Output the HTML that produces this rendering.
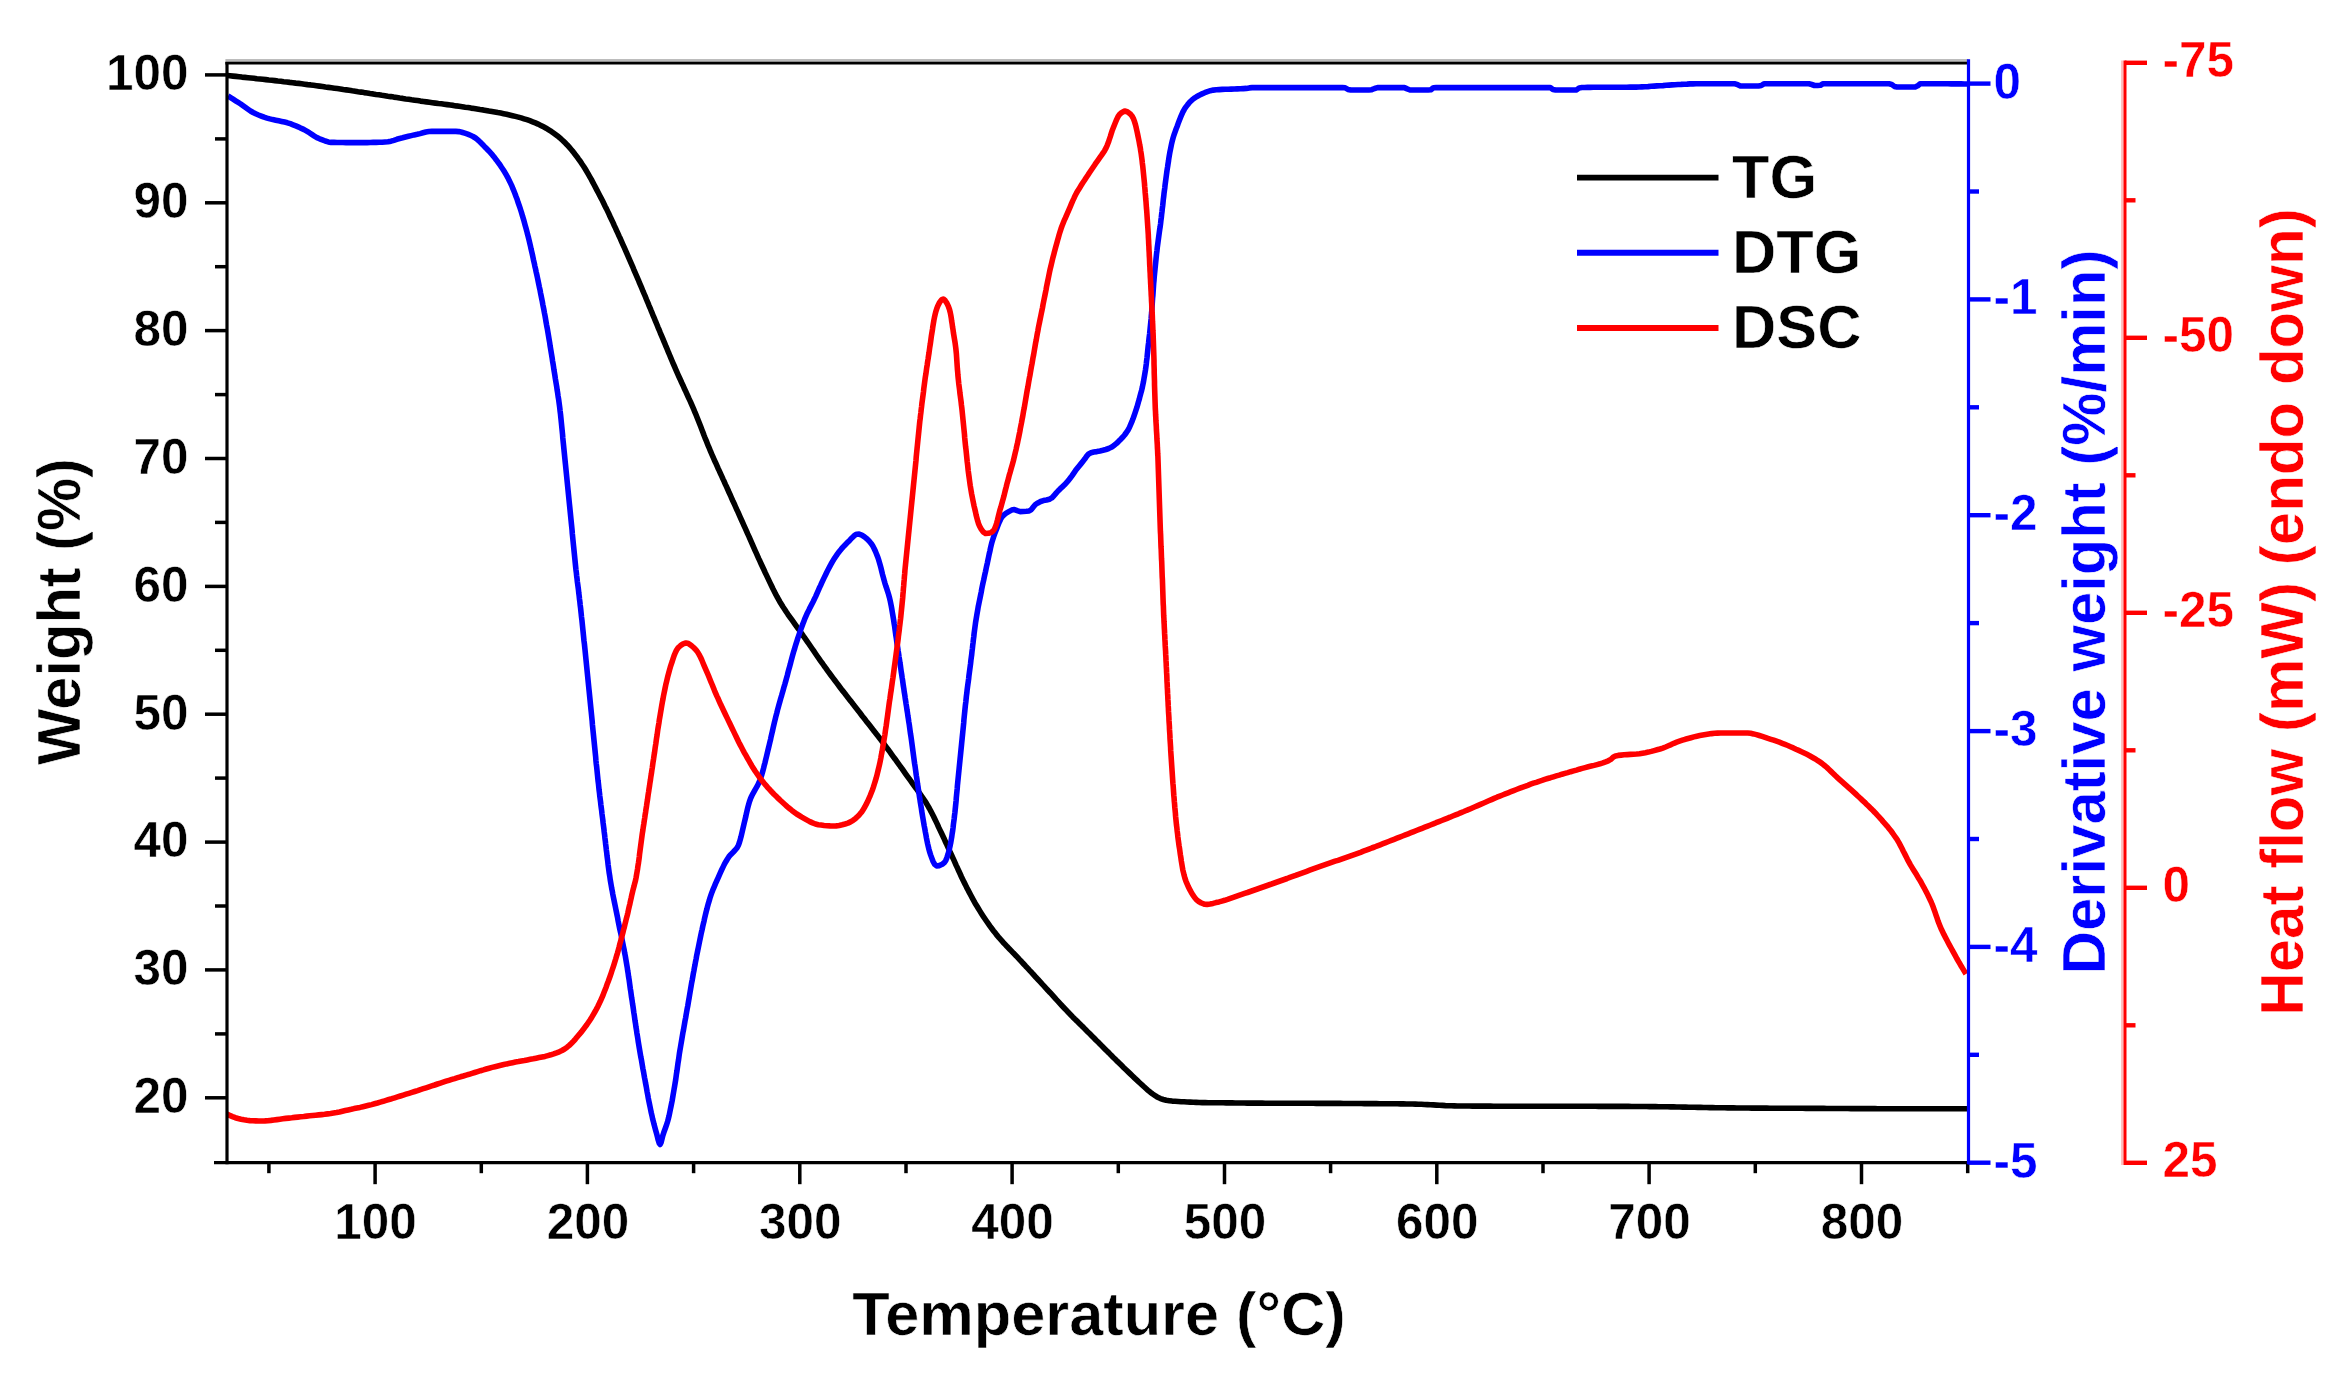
<!DOCTYPE html>
<html lang="en"><head><meta charset="utf-8"><title>TG / DTG / DSC</title>
<style>html,body{margin:0;padding:0;background:#fff}body{width:2350px;height:1390px;overflow:hidden}svg{display:block}text{font-family:'Liberation Sans',Arial,sans-serif;font-weight:bold;stroke:#fff;paint-order:fill stroke;stroke-linejoin:round}</style></head><body>
<svg width="2350" height="1390" viewBox="0 0 2350 1390">
<rect width="2350" height="1390" fill="#fff"/>
<defs><clipPath id="c"><rect x="227.0" y="62.3" width="1741.5" height="1100.4"/></clipPath></defs>
<g clip-path="url(#c)" fill="none" stroke-width="5.6" stroke-linejoin="round" stroke-linecap="butt">
<path d="M227.0 75.5L230.0 75.8L233.0 76.1L236.0 76.4L239.0 76.7L241.9 77.1L244.9 77.4L247.9 77.7L250.9 78.0L253.9 78.3L256.9 78.7L259.9 79.0L262.8 79.3L265.8 79.6L268.8 80.0L271.8 80.3L274.8 80.6L277.8 81.0L280.8 81.3L283.7 81.7L286.7 82.0L289.7 82.4L292.7 82.7L295.7 83.1L298.6 83.4L301.6 83.8L304.6 84.2L307.6 84.6L310.6 84.9L313.5 85.3L316.5 85.7L319.5 86.1L322.5 86.5L325.4 87.0L328.4 87.4L331.4 87.8L334.4 88.2L337.3 88.6L340.3 89.0L343.3 89.5L346.3 89.9L349.2 90.3L352.2 90.8L355.2 91.2L358.1 91.7L361.1 92.1L364.1 92.6L367.1 93.0L370.0 93.5L373.0 93.9L376.0 94.4L378.9 94.8L381.9 95.3L384.9 95.7L387.8 96.2L390.8 96.6L393.8 97.1L396.8 97.5L399.7 98.0L402.7 98.4L405.7 98.9L408.6 99.3L411.6 99.8L414.6 100.2L417.5 100.6L420.5 101.1L423.5 101.5L426.5 101.9L429.4 102.3L432.4 102.7L435.4 103.1L438.4 103.5L441.4 103.8L444.3 104.2L447.3 104.6L450.3 105.0L453.3 105.4L456.2 105.9L459.2 106.3L462.2 106.7L465.2 107.2L468.1 107.6L471.1 108.1L474.1 108.5L477.0 109.0L480.0 109.5L483.0 109.9L485.9 110.4L488.9 111.0L491.9 111.5L494.8 112.0L497.8 112.6L500.7 113.1L503.6 113.7L506.6 114.3L509.5 115.0L512.5 115.7L515.4 116.4L518.3 117.1L521.2 117.9L524.0 118.8L526.9 119.7L529.8 120.7L532.6 121.8L535.4 122.9L538.1 124.1L540.8 125.4L543.5 126.8L546.1 128.2L548.7 129.8L551.3 131.4L553.8 133.2L556.2 135.0L558.6 136.8L560.8 138.7L563.0 140.7L565.1 142.8L567.2 144.9L569.2 147.2L571.2 149.5L573.2 151.9L575.0 154.3L576.9 156.7L578.6 159.1L580.4 161.5L582.0 164.0L583.7 166.5L585.3 169.0L586.8 171.6L588.3 174.2L589.8 176.8L591.3 179.4L592.7 182.1L594.1 184.8L595.5 187.4L596.9 190.1L598.3 192.8L599.7 195.5L601.1 198.1L602.5 200.8L603.8 203.5L605.1 206.2L606.5 208.9L607.8 211.6L609.1 214.3L610.3 217.0L611.6 219.7L612.9 222.4L614.1 225.2L615.4 227.9L616.6 230.6L617.9 233.4L619.1 236.1L620.4 238.8L621.6 241.6L622.8 244.3L624.1 247.1L625.3 249.8L626.5 252.6L627.7 255.3L628.9 258.1L630.1 260.8L631.3 263.6L632.5 266.3L633.6 269.1L634.8 271.9L636.0 274.6L637.2 277.4L638.4 280.1L639.5 282.9L640.7 285.7L641.9 288.4L643.0 291.2L644.2 294.0L645.4 296.7L646.5 299.5L647.7 302.3L648.8 305.1L650.0 307.8L651.1 310.6L652.3 313.4L653.4 316.2L654.6 318.9L655.7 321.7L656.9 324.5L658.0 327.3L659.2 330.0L660.3 332.8L661.5 335.6L662.7 338.4L663.8 341.1L665.0 343.9L666.1 346.7L667.3 349.4L668.4 352.2L669.6 355.0L670.8 357.8L671.9 360.5L673.1 363.3L674.3 366.0L675.5 368.8L676.7 371.6L677.9 374.3L679.1 377.0L680.4 379.8L681.6 382.5L682.9 385.2L684.1 388.0L685.4 390.7L686.6 393.4L687.9 396.2L689.1 398.9L690.4 401.6L691.6 404.4L692.8 407.1L694.0 409.9L695.1 412.7L696.3 415.4L697.4 418.2L698.5 421.0L699.6 423.8L700.7 426.6L701.8 429.4L702.9 432.2L703.9 435.0L705.0 437.8L706.2 440.6L707.3 443.4L708.4 446.2L709.6 448.9L710.7 451.7L711.9 454.5L713.1 457.2L714.3 460.0L715.6 462.7L716.8 465.4L718.0 468.2L719.3 470.9L720.5 473.6L721.8 476.4L723.0 479.1L724.3 481.8L725.5 484.6L726.8 487.3L728.0 490.0L729.2 492.8L730.5 495.5L731.7 498.3L732.9 501.0L734.2 503.7L735.4 506.5L736.6 509.2L737.9 511.9L739.1 514.7L740.3 517.4L741.6 520.2L742.8 522.9L744.0 525.6L745.3 528.4L746.5 531.1L747.7 533.9L749.0 536.6L750.2 539.4L751.4 542.1L752.6 544.9L753.8 547.6L755.0 550.3L756.3 553.1L757.5 555.8L758.7 558.6L760.0 561.3L761.2 564.0L762.5 566.8L763.8 569.5L765.0 572.2L766.3 574.9L767.6 577.6L768.9 580.4L770.2 583.1L771.5 585.8L772.8 588.5L774.2 591.2L775.5 593.9L776.9 596.5L778.4 599.1L779.8 601.7L781.4 604.3L782.9 606.8L784.6 609.3L786.2 611.8L787.9 614.3L789.7 616.8L791.4 619.2L793.2 621.7L794.9 624.1L796.7 626.6L798.5 629.0L800.2 631.5L801.9 633.9L803.6 636.4L805.4 638.9L807.1 641.3L808.8 643.8L810.5 646.3L812.2 648.8L813.9 651.2L815.6 653.7L817.3 656.2L819.0 658.6L820.7 661.1L822.5 663.5L824.2 666.0L826.0 668.4L827.7 670.9L829.5 673.3L831.3 675.7L833.1 678.1L834.9 680.5L836.7 682.9L838.5 685.3L840.3 687.7L842.1 690.1L844.0 692.4L845.8 694.8L847.7 697.2L849.5 699.6L851.4 701.9L853.2 704.3L855.1 706.7L856.9 709.0L858.8 711.4L860.6 713.8L862.4 716.2L864.3 718.5L866.1 720.9L868.0 723.3L869.8 725.6L871.7 728.0L873.5 730.4L875.4 732.7L877.2 735.1L879.1 737.5L880.9 739.9L882.7 742.3L884.5 744.7L886.3 747.1L888.1 749.5L889.9 751.9L891.6 754.3L893.4 756.8L895.2 759.2L896.9 761.6L898.7 764.1L900.4 766.5L902.2 768.9L903.9 771.4L905.6 773.8L907.4 776.3L909.1 778.7L910.9 781.2L912.6 783.6L914.4 786.1L916.2 788.5L917.9 790.9L919.7 793.4L921.4 795.8L923.1 798.3L924.8 800.8L926.4 803.3L927.9 805.9L929.4 808.5L930.8 811.1L932.2 813.8L933.6 816.5L934.9 819.2L936.2 821.9L937.5 824.6L938.7 827.4L940.0 830.1L941.3 832.8L942.6 835.5L943.9 838.2L945.1 841.0L946.4 843.7L947.6 846.4L948.9 849.2L950.1 851.9L951.4 854.6L952.6 857.3L953.9 860.1L955.1 862.8L956.3 865.6L957.6 868.3L958.8 871.0L960.1 873.8L961.3 876.5L962.6 879.2L963.9 881.9L965.3 884.6L966.6 887.3L968.0 889.9L969.4 892.6L970.8 895.3L972.2 897.9L973.7 900.6L975.1 903.2L976.7 905.8L978.2 908.3L979.8 910.9L981.4 913.4L983.0 915.9L984.7 918.5L986.4 921.0L988.1 923.4L989.8 925.9L991.6 928.3L993.4 930.7L995.3 933.1L997.1 935.4L999.0 937.7L1001.0 939.9L1003.0 942.2L1005.1 944.4L1007.1 946.6L1009.2 948.7L1011.3 950.9L1013.4 953.1L1015.5 955.2L1017.6 957.4L1019.6 959.6L1021.7 961.8L1023.7 964.0L1025.7 966.2L1027.8 968.4L1029.8 970.6L1031.9 972.8L1033.9 975.0L1035.9 977.3L1038.0 979.5L1040.0 981.7L1042.0 983.9L1044.1 986.1L1046.1 988.3L1048.1 990.5L1050.2 992.7L1052.2 994.9L1054.2 997.2L1056.2 999.4L1058.3 1001.6L1060.3 1003.8L1062.3 1006.0L1064.4 1008.2L1066.5 1010.4L1068.5 1012.6L1070.6 1014.7L1072.7 1016.9L1074.8 1019.0L1077.0 1021.1L1079.1 1023.2L1081.2 1025.3L1083.4 1027.4L1085.5 1029.6L1087.6 1031.7L1089.8 1033.8L1091.9 1035.9L1094.0 1038.0L1096.1 1040.2L1098.3 1042.3L1100.4 1044.4L1102.5 1046.6L1104.6 1048.7L1106.7 1050.8L1108.9 1052.9L1111.0 1055.1L1113.1 1057.2L1115.3 1059.3L1117.4 1061.4L1119.6 1063.5L1121.7 1065.6L1123.8 1067.7L1126.0 1069.8L1128.2 1071.9L1130.3 1073.9L1132.5 1076.0L1134.7 1078.1L1136.9 1080.1L1139.1 1082.2L1141.3 1084.2L1143.5 1086.3L1145.7 1088.3L1148.0 1090.3L1150.3 1092.2L1152.7 1094.0L1155.2 1095.7L1157.7 1097.3L1160.4 1098.6L1163.3 1099.5L1166.2 1100.3L1169.2 1100.7L1172.1 1101.1L1175.1 1101.3L1178.2 1101.5L1181.2 1101.7L1184.1 1101.8L1187.1 1102.0L1190.1 1102.1L1193.2 1102.3L1196.2 1102.4L1199.2 1102.5L1202.2 1102.6L1205.2 1102.6L1208.2 1102.7L1211.2 1102.7L1214.2 1102.7L1217.2 1102.8L1220.2 1102.8L1223.2 1102.8L1226.2 1102.9L1229.2 1102.9L1232.2 1102.9L1235.2 1103.0L1238.2 1103.0L1241.2 1103.0L1244.2 1103.0L1247.2 1103.1L1250.2 1103.1L1253.2 1103.1L1256.2 1103.1L1259.2 1103.1L1262.2 1103.1L1265.2 1103.2L1268.2 1103.2L1271.2 1103.2L1274.2 1103.2L1277.2 1103.2L1280.2 1103.2L1283.2 1103.2L1286.2 1103.3L1289.3 1103.3L1292.3 1103.3L1295.3 1103.3L1298.3 1103.3L1301.3 1103.3L1304.3 1103.3L1307.3 1103.3L1310.3 1103.3L1313.3 1103.3L1316.3 1103.4L1319.3 1103.4L1322.3 1103.4L1325.3 1103.4L1328.3 1103.4L1331.3 1103.4L1334.3 1103.4L1337.3 1103.4L1340.3 1103.4L1343.3 1103.5L1346.3 1103.5L1349.3 1103.5L1352.3 1103.5L1355.3 1103.5L1358.3 1103.5L1361.3 1103.5L1364.4 1103.6L1367.4 1103.6L1370.4 1103.6L1373.4 1103.6L1376.4 1103.6L1379.4 1103.7L1382.4 1103.7L1385.4 1103.7L1388.4 1103.8L1391.4 1103.8L1394.4 1103.8L1397.4 1103.8L1400.4 1103.9L1403.4 1103.9L1406.4 1104.0L1409.4 1104.0L1412.4 1104.0L1415.4 1104.1L1418.4 1104.2L1421.4 1104.3L1424.4 1104.5L1427.4 1104.6L1430.4 1104.8L1433.4 1104.9L1436.4 1105.1L1439.4 1105.3L1442.4 1105.4L1445.4 1105.6L1448.4 1105.7L1451.4 1105.8L1454.4 1105.9L1457.4 1106.0L1460.4 1106.0L1463.4 1106.0L1466.4 1106.0L1469.4 1106.0L1472.4 1106.1L1475.4 1106.1L1478.4 1106.1L1481.4 1106.1L1484.4 1106.1L1487.4 1106.1L1490.4 1106.1L1493.4 1106.2L1496.4 1106.2L1499.5 1106.2L1502.5 1106.2L1505.5 1106.2L1508.5 1106.2L1511.5 1106.2L1514.5 1106.2L1517.5 1106.2L1520.5 1106.2L1523.5 1106.2L1526.5 1106.2L1529.5 1106.2L1532.5 1106.2L1535.5 1106.3L1538.5 1106.3L1541.5 1106.3L1544.5 1106.3L1547.5 1106.3L1550.5 1106.3L1553.5 1106.3L1556.5 1106.3L1559.5 1106.3L1562.5 1106.3L1565.5 1106.3L1568.5 1106.3L1571.5 1106.3L1574.5 1106.3L1577.5 1106.3L1580.6 1106.3L1583.6 1106.3L1586.6 1106.3L1589.6 1106.3L1592.6 1106.3L1595.6 1106.3L1598.6 1106.4L1601.6 1106.4L1604.6 1106.4L1607.6 1106.4L1610.6 1106.4L1613.6 1106.4L1616.6 1106.4L1619.6 1106.4L1622.6 1106.4L1625.6 1106.4L1628.6 1106.4L1631.6 1106.5L1634.6 1106.5L1637.6 1106.5L1640.6 1106.5L1643.6 1106.5L1646.6 1106.5L1649.6 1106.6L1652.6 1106.6L1655.6 1106.6L1658.6 1106.7L1661.7 1106.7L1664.7 1106.8L1667.7 1106.8L1670.7 1106.9L1673.7 1106.9L1676.7 1107.0L1679.7 1107.0L1682.7 1107.1L1685.7 1107.1L1688.7 1107.2L1691.7 1107.2L1694.7 1107.3L1697.7 1107.4L1700.7 1107.4L1703.7 1107.5L1706.7 1107.5L1709.7 1107.6L1712.7 1107.6L1715.7 1107.7L1718.7 1107.7L1721.7 1107.8L1724.7 1107.8L1727.7 1107.9L1730.7 1107.9L1733.7 1107.9L1736.7 1108.0L1739.7 1108.0L1742.7 1108.0L1745.7 1108.0L1748.7 1108.0L1751.7 1108.1L1754.8 1108.1L1757.8 1108.1L1760.8 1108.1L1763.8 1108.1L1766.8 1108.1L1769.8 1108.2L1772.8 1108.2L1775.8 1108.2L1778.8 1108.2L1781.8 1108.2L1784.8 1108.2L1787.8 1108.3L1790.8 1108.3L1793.8 1108.3L1796.8 1108.3L1799.8 1108.3L1802.8 1108.3L1805.8 1108.4L1808.8 1108.4L1811.8 1108.4L1814.8 1108.4L1817.8 1108.4L1820.8 1108.4L1823.8 1108.4L1826.8 1108.5L1829.8 1108.5L1832.8 1108.5L1835.8 1108.5L1838.8 1108.5L1841.8 1108.5L1844.9 1108.5L1847.9 1108.5L1850.9 1108.6L1853.9 1108.6L1856.9 1108.6L1859.9 1108.6L1862.9 1108.6L1865.9 1108.6L1868.9 1108.6L1871.9 1108.6L1874.9 1108.6L1877.9 1108.7L1880.9 1108.7L1883.9 1108.7L1886.9 1108.7L1889.9 1108.7L1892.9 1108.7L1895.9 1108.7L1898.9 1108.7L1901.9 1108.7L1904.9 1108.7L1907.9 1108.7L1910.9 1108.7L1913.9 1108.7L1916.9 1108.8L1919.9 1108.8L1922.9 1108.8L1925.9 1108.8L1929.0 1108.8L1932.0 1108.8L1935.0 1108.8L1938.0 1108.8L1941.0 1108.8L1944.0 1108.8L1947.0 1108.8L1950.0 1108.8L1953.0 1108.8L1956.0 1108.8L1959.0 1108.8L1962.0 1108.8L1965.0 1108.8L1968.0 1108.8" stroke="#000"/>
<path d="M228.0 96.0L230.6 97.6L233.1 99.2L235.6 100.8L238.2 102.4L240.7 104.0L243.1 105.8L245.6 107.6L248.0 109.3L250.5 111.0L253.1 112.5L255.7 113.8L258.5 115.0L261.3 116.1L264.1 117.2L267.0 118.1L269.9 118.9L272.8 119.6L275.7 120.2L278.7 120.8L281.6 121.4L284.6 122.1L287.4 122.8L290.3 123.7L293.1 124.8L295.9 125.9L298.7 127.1L301.4 128.4L304.1 129.6L306.7 131.1L309.3 132.7L311.8 134.4L314.4 136.1L316.9 137.6L319.6 138.8L322.4 139.9L325.2 141.0L328.2 141.9L331.1 142.4L334.1 142.4L337.0 142.5L340.0 142.5L343.0 142.5L346.0 142.6L349.0 142.6L352.1 142.6L355.1 142.6L358.1 142.6L361.1 142.6L364.1 142.6L367.1 142.6L370.1 142.5L373.2 142.4L376.2 142.4L379.2 142.3L382.1 142.2L385.1 142.0L388.0 141.8L391.0 141.2L393.9 140.3L396.8 139.3L399.7 138.5L402.6 137.8L405.5 137.0L408.4 136.3L411.3 135.6L414.2 134.9L417.2 134.3L420.1 133.6L423.0 132.8L425.9 132.0L428.9 131.5L431.8 131.4L434.8 131.4L437.8 131.4L440.8 131.4L443.9 131.4L446.9 131.4L449.9 131.4L452.9 131.4L455.8 131.4L458.8 131.6L461.8 132.2L464.8 133.1L467.7 134.1L470.4 135.3L473.0 136.5L475.5 138.0L477.8 139.9L480.1 142.0L482.3 144.2L484.4 146.4L486.5 148.5L488.6 150.7L490.6 152.9L492.6 155.2L494.5 157.6L496.3 159.9L498.1 162.4L499.9 164.8L501.5 167.3L503.2 169.8L504.8 172.3L506.3 174.9L507.8 177.6L509.1 180.2L510.4 182.9L511.7 185.6L512.8 188.4L514.0 191.2L515.1 194.0L516.1 196.8L517.2 199.6L518.1 202.5L519.1 205.3L520.1 208.2L521.0 211.0L521.9 213.9L522.7 216.7L523.6 219.6L524.4 222.5L525.2 225.4L526.0 228.3L526.8 231.2L527.5 234.1L528.3 237.0L529.0 239.9L529.7 242.9L530.4 245.8L531.0 248.7L531.7 251.6L532.4 254.6L533.0 257.5L533.6 260.4L534.3 263.3L534.9 266.3L535.6 269.2L536.2 272.1L536.9 275.1L537.5 278.0L538.1 280.9L538.7 283.9L539.3 286.8L540.0 289.8L540.5 292.7L541.1 295.6L541.7 298.6L542.3 301.5L542.8 304.5L543.4 307.4L544.0 310.4L544.5 313.3L545.1 316.3L545.6 319.2L546.1 322.2L546.6 325.1L547.2 328.1L547.7 331.0L548.2 334.0L548.7 337.0L549.2 339.9L549.7 342.9L550.1 345.8L550.6 348.8L551.1 351.8L551.6 354.7L552.1 357.7L552.5 360.7L553.0 363.6L553.5 366.6L553.9 369.6L554.4 372.5L554.9 375.5L555.3 378.4L555.8 381.4L556.3 384.4L556.8 387.3L557.2 390.3L557.7 393.3L558.1 396.2L558.6 399.2L559.0 402.2L559.4 405.1L559.8 408.1L560.1 411.1L560.5 414.1L560.8 417.1L561.1 420.0L561.4 423.0L561.7 426.0L562.0 429.0L562.3 432.0L562.6 435.0L562.8 438.0L563.1 441.0L563.4 443.9L563.7 446.9L564.0 449.9L564.3 452.9L564.6 455.9L564.9 458.9L565.2 461.9L565.5 464.8L565.8 467.8L566.1 470.8L566.4 473.8L566.7 476.8L567.0 479.8L567.3 482.8L567.6 485.7L567.9 488.7L568.2 491.7L568.5 494.7L568.8 497.7L569.1 500.7L569.4 503.7L569.7 506.6L570.0 509.6L570.3 512.6L570.6 515.6L570.9 518.6L571.2 521.6L571.5 524.6L571.8 527.5L572.1 530.5L572.3 533.5L572.6 536.5L572.9 539.5L573.2 542.5L573.5 545.5L573.8 548.4L574.1 551.4L574.4 554.4L574.7 557.4L575.0 560.4L575.3 563.4L575.6 566.4L575.9 569.3L576.3 572.3L576.6 575.3L577.0 578.3L577.3 581.3L577.7 584.2L578.1 587.2L578.5 590.2L578.8 593.2L579.2 596.1L579.5 599.1L579.9 602.1L580.2 605.1L580.6 608.1L580.9 611.1L581.2 614.0L581.5 617.0L581.9 620.0L582.2 623.0L582.5 626.0L582.8 629.0L583.1 631.9L583.4 634.9L583.7 637.9L584.0 640.9L584.4 643.9L584.7 646.9L585.0 649.8L585.3 652.8L585.6 655.8L585.9 658.8L586.2 661.8L586.5 664.8L586.8 667.8L587.1 670.7L587.4 673.7L587.7 676.7L588.0 679.7L588.3 682.7L588.6 685.7L588.9 688.7L589.2 691.6L589.5 694.6L589.8 697.6L590.1 700.6L590.4 703.6L590.7 706.6L591.0 709.6L591.3 712.5L591.6 715.5L591.9 718.5L592.2 721.5L592.4 724.5L592.7 727.5L593.0 730.5L593.3 733.4L593.6 736.4L593.9 739.4L594.2 742.4L594.5 745.4L594.8 748.4L595.1 751.4L595.4 754.4L595.7 757.3L595.9 760.3L596.2 763.3L596.6 766.3L596.9 769.3L597.2 772.3L597.5 775.3L597.8 778.2L598.1 781.2L598.5 784.2L598.8 787.2L599.1 790.2L599.5 793.1L599.8 796.1L600.2 799.1L600.6 802.1L600.9 805.1L601.3 808.0L601.7 811.0L602.0 814.0L602.4 817.0L602.8 819.9L603.1 822.9L603.5 825.9L603.9 828.9L604.2 831.9L604.6 834.8L604.9 837.8L605.3 840.8L605.6 843.8L606.0 846.8L606.3 849.8L606.7 852.7L607.0 855.7L607.4 858.7L607.8 861.7L608.1 864.6L608.5 867.6L608.9 870.6L609.3 873.6L609.8 876.5L610.2 879.5L610.7 882.4L611.2 885.4L611.7 888.4L612.3 891.3L612.8 894.3L613.4 897.2L614.0 900.1L614.6 903.1L615.2 906.0L615.8 909.0L616.4 911.9L617.0 914.9L617.6 917.8L618.1 920.7L618.7 923.7L619.3 926.6L619.9 929.6L620.6 932.5L621.2 935.4L621.8 938.4L622.4 941.3L623.0 944.3L623.6 947.2L624.2 950.1L624.7 953.1L625.3 956.0L625.8 959.0L626.3 962.0L626.8 964.9L627.3 967.9L627.7 970.8L628.2 973.8L628.6 976.8L629.1 979.7L629.5 982.7L629.9 985.7L630.3 988.7L630.8 991.6L631.2 994.6L631.6 997.6L632.1 1000.5L632.5 1003.5L633.0 1006.5L633.4 1009.4L633.8 1012.4L634.3 1015.4L634.7 1018.3L635.1 1021.3L635.6 1024.3L636.0 1027.3L636.5 1030.2L636.9 1033.2L637.4 1036.1L637.9 1039.1L638.3 1042.1L638.8 1045.0L639.3 1048.0L639.8 1051.0L640.3 1053.9L640.8 1056.9L641.4 1059.8L641.9 1062.8L642.4 1065.7L642.9 1068.7L643.5 1071.6L644.0 1074.6L644.5 1077.5L645.1 1080.5L645.6 1083.4L646.2 1086.4L646.7 1089.4L647.2 1092.3L647.8 1095.3L648.3 1098.2L648.9 1101.2L649.5 1104.1L650.1 1107.0L650.7 1110.0L651.3 1112.9L652.0 1115.8L652.6 1118.8L653.4 1121.7L654.1 1124.6L654.9 1127.5L655.7 1130.4L656.5 1133.3L657.3 1136.3L658.2 1140.0L659.2 1143.2L660.1 1144.5L661.0 1142.8L661.9 1139.4L662.8 1135.7L663.7 1132.8L664.7 1130.0L665.7 1127.2L666.7 1124.3L667.6 1121.5L668.4 1118.6L669.1 1115.7L669.7 1112.8L670.3 1109.8L670.9 1106.9L671.5 1103.9L672.1 1101.0L672.6 1098.0L673.1 1095.1L673.6 1092.1L674.1 1089.1L674.6 1086.2L675.1 1083.2L675.6 1080.3L676.0 1077.3L676.4 1074.3L676.9 1071.3L677.3 1068.4L677.7 1065.4L678.1 1062.4L678.6 1059.5L679.0 1056.5L679.4 1053.5L679.9 1050.6L680.4 1047.6L680.9 1044.6L681.4 1041.7L681.9 1038.7L682.4 1035.8L682.9 1032.8L683.5 1029.9L684.0 1026.9L684.5 1024.0L685.0 1021.0L685.6 1018.0L686.1 1015.1L686.6 1012.1L687.1 1009.2L687.7 1006.2L688.2 1003.3L688.7 1000.3L689.2 997.4L689.7 994.4L690.2 991.4L690.7 988.5L691.2 985.5L691.7 982.6L692.3 979.6L692.8 976.7L693.3 973.7L693.9 970.8L694.4 967.8L695.0 964.9L695.5 961.9L696.1 959.0L696.6 956.0L697.2 953.1L697.8 950.1L698.4 947.2L699.0 944.2L699.6 941.3L700.2 938.4L700.8 935.4L701.4 932.5L702.1 929.6L702.7 926.6L703.4 923.7L704.1 920.8L704.7 917.8L705.4 914.9L706.1 912.0L706.9 909.1L707.6 906.2L708.4 903.3L709.3 900.4L710.1 897.6L711.1 894.7L712.1 891.9L713.2 889.1L714.4 886.3L715.5 883.6L716.8 880.8L718.0 878.1L719.2 875.3L720.4 872.6L721.7 869.8L723.0 867.1L724.3 864.4L725.8 861.7L727.3 859.2L728.9 856.7L730.9 854.4L733.1 852.2L735.2 850.0L737.1 847.7L738.4 845.2L739.4 842.5L740.2 839.7L741.0 836.8L741.7 833.8L742.4 830.8L743.1 827.8L743.8 824.8L744.5 821.9L745.2 819.0L745.9 816.0L746.5 813.1L747.2 810.1L747.9 807.2L748.7 804.3L749.5 801.5L750.5 798.7L751.7 796.0L753.1 793.3L754.6 790.7L756.1 788.0L757.6 785.4L758.9 782.7L760.0 779.9L761.0 777.1L761.9 774.3L762.7 771.4L763.5 768.5L764.2 765.6L765.0 762.7L765.7 759.7L766.4 756.8L767.1 753.9L767.8 750.9L768.5 748.0L769.2 745.1L769.9 742.2L770.6 739.3L771.2 736.3L771.9 733.4L772.6 730.5L773.2 727.6L773.9 724.6L774.6 721.7L775.3 718.8L776.0 715.9L776.8 713.0L777.5 710.1L778.3 707.2L779.1 704.3L779.9 701.4L780.7 698.5L781.6 695.6L782.4 692.8L783.2 689.9L784.0 687.0L784.9 684.1L785.7 681.2L786.5 678.3L787.3 675.4L788.0 672.5L788.8 669.6L789.6 666.7L790.4 663.8L791.1 660.9L791.9 658.0L792.7 655.1L793.5 652.2L794.4 649.4L795.2 646.5L796.1 643.6L797.0 640.8L797.9 637.9L798.9 635.1L799.9 632.2L800.8 629.4L801.9 626.5L802.9 623.7L804.0 620.9L805.1 618.1L806.3 615.4L807.5 612.7L808.9 610.0L810.2 607.3L811.6 604.7L813.0 602.0L814.3 599.3L815.6 596.6L816.8 593.8L818.0 591.1L819.2 588.3L820.5 585.6L821.7 582.9L823.0 580.1L824.3 577.4L825.6 574.7L826.9 572.0L828.3 569.3L829.7 566.7L831.1 564.0L832.6 561.4L834.1 558.8L835.8 556.4L837.5 553.9L839.3 551.5L841.2 549.2L843.2 546.9L845.3 544.7L847.4 542.6L849.6 540.4L851.9 537.9L854.2 535.7L856.6 534.2L859.1 534.1L861.8 535.1L864.5 536.9L867.1 539.0L869.3 541.2L871.1 543.4L872.7 545.8L874.1 548.5L875.4 551.3L876.6 554.2L877.7 557.1L878.7 559.9L879.5 562.7L880.3 565.6L881.1 568.5L881.8 571.5L882.5 574.4L883.3 577.3L884.1 580.2L884.9 583.1L885.8 586.0L886.8 588.8L887.7 591.7L888.6 594.5L889.4 597.4L890.1 600.3L890.7 603.3L891.3 606.2L891.8 609.1L892.3 612.1L892.8 615.0L893.3 618.0L893.8 621.0L894.2 623.9L894.7 626.9L895.1 629.9L895.5 632.9L895.9 635.8L896.4 638.8L896.8 641.8L897.2 644.8L897.7 647.7L898.1 650.7L898.6 653.7L899.0 656.6L899.5 659.6L899.9 662.6L900.4 665.5L900.8 668.5L901.2 671.5L901.7 674.4L902.1 677.4L902.6 680.4L903.0 683.4L903.4 686.3L903.9 689.3L904.3 692.3L904.8 695.2L905.2 698.2L905.7 701.2L906.1 704.1L906.6 707.1L907.0 710.1L907.5 713.0L907.9 716.0L908.4 719.0L908.8 721.9L909.3 724.9L909.7 727.9L910.1 730.8L910.5 733.8L911.0 736.8L911.4 739.7L911.8 742.7L912.2 745.7L912.6 748.7L913.0 751.6L913.4 754.6L913.8 757.6L914.2 760.6L914.6 763.5L915.1 766.5L915.5 769.5L915.9 772.4L916.3 775.4L916.8 778.4L917.2 781.3L917.6 784.3L918.1 787.3L918.5 790.3L919.0 793.2L919.4 796.2L919.9 799.2L920.3 802.1L920.8 805.1L921.3 808.0L921.7 811.0L922.2 814.0L922.7 816.9L923.2 819.9L923.7 822.9L924.2 825.8L924.8 828.8L925.3 831.7L925.9 834.7L926.4 837.7L927.0 840.7L927.6 843.6L928.3 846.6L929.0 849.5L929.8 852.4L930.7 855.1L931.8 858.1L933.1 861.5L934.7 864.4L936.6 865.9L939.1 865.6L942.3 864.2L944.4 862.6L945.8 860.4L946.9 857.7L947.9 854.7L948.8 851.4L949.5 848.3L950.2 845.3L950.8 842.4L951.3 839.4L951.8 836.5L952.2 833.5L952.7 830.5L953.1 827.5L953.4 824.5L953.8 821.5L954.2 818.6L954.5 815.6L954.9 812.6L955.2 809.6L955.5 806.6L955.8 803.6L956.1 800.7L956.3 797.7L956.6 794.7L956.9 791.7L957.2 788.7L957.4 785.7L957.7 782.7L958.0 779.7L958.3 776.8L958.6 773.8L958.9 770.8L959.2 767.8L959.5 764.8L959.8 761.8L960.1 758.8L960.4 755.9L960.7 752.9L961.0 749.9L961.3 746.9L961.6 743.9L961.9 740.9L962.2 737.9L962.5 734.9L962.8 732.0L963.1 729.0L963.4 726.0L963.7 723.0L963.9 720.0L964.2 717.0L964.5 714.0L964.8 711.1L965.1 708.1L965.4 705.1L965.8 702.1L966.1 699.1L966.4 696.1L966.8 693.2L967.1 690.2L967.5 687.2L967.9 684.2L968.3 681.3L968.7 678.3L969.0 675.3L969.4 672.3L969.8 669.3L970.2 666.4L970.6 663.4L970.9 660.4L971.3 657.4L971.7 654.5L972.0 651.5L972.4 648.5L972.7 645.5L973.1 642.5L973.4 639.6L973.8 636.6L974.1 633.6L974.5 630.6L974.9 627.6L975.3 624.7L975.7 621.7L976.2 618.7L976.7 615.8L977.2 612.8L977.7 609.9L978.2 606.9L978.8 604.0L979.4 601.0L980.0 598.1L980.6 595.1L981.2 592.2L981.7 589.3L982.3 586.3L982.9 583.4L983.6 580.4L984.2 577.5L984.8 574.6L985.5 571.6L986.1 568.7L986.7 565.8L987.4 562.8L988.0 559.9L988.6 557.0L989.2 554.0L989.9 551.1L990.5 548.1L991.2 545.2L991.9 542.3L992.8 539.5L993.7 536.6L994.7 533.8L995.8 531.0L996.9 528.2L998.0 525.3L999.1 522.5L1000.4 519.7L1001.8 517.2L1003.8 515.0L1006.2 513.1L1008.8 511.6L1011.6 510.1L1014.4 509.6L1017.2 510.7L1020.1 511.6L1023.2 511.5L1026.3 511.3L1029.1 511.0L1031.3 509.6L1033.3 507.0L1035.4 504.5L1037.9 502.9L1040.6 501.5L1043.4 500.6L1046.5 500.0L1049.4 499.2L1051.8 497.9L1053.9 495.8L1055.9 493.4L1058.0 491.0L1060.1 488.9L1062.3 486.9L1064.5 484.8L1066.5 482.6L1068.5 480.4L1070.3 478.0L1072.1 475.6L1073.8 473.1L1075.5 470.6L1077.3 468.3L1079.2 465.9L1081.1 463.6L1083.0 461.2L1084.9 458.8L1086.7 456.2L1088.7 453.9L1091.0 452.7L1093.8 452.0L1096.9 451.6L1100.0 451.0L1102.9 450.3L1105.9 449.5L1108.7 448.5L1111.3 447.3L1113.8 445.7L1116.2 443.7L1118.4 441.6L1120.5 439.5L1122.6 437.3L1124.6 435.0L1126.4 432.5L1128.0 430.1L1129.4 427.5L1130.6 424.7L1131.8 421.9L1132.9 419.1L1133.9 416.3L1134.9 413.4L1135.8 410.6L1136.8 407.7L1137.6 404.9L1138.4 402.0L1139.3 399.1L1140.0 396.2L1140.8 393.3L1141.6 390.4L1142.3 387.5L1142.9 384.5L1143.5 381.6L1144.0 378.6L1144.5 375.7L1145.0 372.7L1145.5 369.7L1145.9 366.8L1146.3 363.8L1146.6 360.8L1147.0 357.8L1147.3 354.9L1147.6 351.9L1147.9 348.9L1148.2 345.9L1148.6 342.9L1148.9 339.9L1149.2 337.0L1149.6 334.0L1149.9 331.0L1150.2 328.0L1150.5 325.0L1150.8 322.0L1151.1 319.0L1151.3 316.1L1151.6 313.1L1151.8 310.1L1152.0 307.1L1152.2 304.1L1152.4 301.1L1152.6 298.1L1152.9 295.1L1153.1 292.1L1153.3 289.1L1153.5 286.1L1153.7 283.1L1154.0 280.1L1154.2 277.2L1154.5 274.2L1154.8 271.2L1155.1 268.2L1155.4 265.2L1155.7 262.2L1156.0 259.2L1156.3 256.3L1156.6 253.3L1157.0 250.3L1157.3 247.3L1157.7 244.3L1158.1 241.4L1158.5 238.4L1158.9 235.4L1159.3 232.4L1159.7 229.5L1160.2 226.5L1160.6 223.5L1160.9 220.5L1161.3 217.6L1161.6 214.6L1162.0 211.6L1162.3 208.6L1162.7 205.6L1163.0 202.7L1163.3 199.7L1163.7 196.7L1164.0 193.7L1164.4 190.7L1164.8 187.8L1165.1 184.8L1165.5 181.8L1165.9 178.8L1166.3 175.9L1166.7 172.9L1167.1 169.9L1167.6 166.9L1168.0 164.0L1168.5 161.0L1168.9 158.0L1169.4 155.1L1169.9 152.1L1170.5 149.2L1171.1 146.2L1171.7 143.3L1172.4 140.4L1173.2 137.5L1174.1 134.7L1175.1 131.8L1176.1 129.0L1177.2 126.2L1178.2 123.4L1179.3 120.5L1180.4 117.7L1181.6 114.9L1182.8 112.2L1184.2 109.6L1185.8 107.1L1187.7 104.6L1189.6 102.3L1191.8 100.2L1194.0 98.4L1196.5 96.7L1199.2 95.2L1202.0 93.9L1204.7 92.7L1207.5 91.6L1210.4 90.7L1213.3 90.1L1216.3 89.8L1219.2 89.6L1222.2 89.4L1225.2 89.3L1228.2 89.2L1231.2 89.1L1234.3 89.0L1237.3 88.9L1240.3 88.8L1243.3 88.6L1246.3 88.4L1249.3 87.9L1252.2 87.6L1255.2 87.6L1258.2 87.6L1261.2 87.6L1264.3 87.6L1267.3 87.6L1270.3 87.6L1273.4 87.6L1276.4 87.6L1279.4 87.6L1282.5 87.6L1285.5 87.6L1288.6 87.6L1291.6 87.6L1294.7 87.6L1297.7 87.6L1300.8 87.6L1303.8 87.6L1306.8 87.6L1309.8 87.6L1312.9 87.6L1315.9 87.6L1318.9 87.6L1321.8 87.6L1324.8 87.6L1327.8 87.6L1330.7 87.6L1333.7 87.6L1336.6 87.6L1339.5 87.6L1342.3 87.6L1345.2 87.8L1347.9 89.4L1350.8 90.0L1353.7 90.0L1356.7 90.0L1359.8 90.0L1362.8 90.0L1365.8 90.0L1368.8 90.0L1371.7 89.7L1374.6 88.5L1377.5 87.6L1380.4 87.6L1383.4 87.6L1386.4 87.6L1389.5 87.6L1392.5 87.6L1395.6 87.6L1398.6 87.6L1401.5 87.6L1404.4 87.6L1407.2 88.9L1410.0 90.0L1412.9 90.0L1416.0 90.0L1419.1 90.0L1422.2 90.0L1425.2 90.0L1428.1 90.0L1430.9 89.7L1433.4 87.7L1436.1 87.6L1438.9 87.6L1441.7 87.6L1444.5 87.6L1447.4 87.6L1450.3 87.6L1453.3 87.6L1456.3 87.6L1459.3 87.6L1462.3 87.6L1465.3 87.6L1468.4 87.6L1471.5 87.6L1474.6 87.6L1477.7 87.6L1480.8 87.6L1484.0 87.6L1487.1 87.6L1490.3 87.6L1493.4 87.6L1496.6 87.6L1499.7 87.6L1502.8 87.6L1506.0 87.6L1509.1 87.6L1512.2 87.6L1515.3 87.6L1518.4 87.6L1521.4 87.6L1524.4 87.6L1527.5 87.6L1530.4 87.6L1533.4 87.6L1536.3 87.6L1539.2 87.6L1542.0 87.6L1544.8 87.6L1547.6 87.6L1550.3 87.6L1552.9 89.5L1555.6 90.0L1558.5 90.0L1561.6 90.0L1564.7 90.0L1567.8 90.0L1570.9 90.0L1573.9 90.0L1576.6 89.9L1579.2 87.9L1581.9 87.5L1584.6 87.5L1587.5 87.4L1590.3 87.4L1593.3 87.3L1596.2 87.3L1599.2 87.3L1602.2 87.3L1605.2 87.3L1608.3 87.3L1611.4 87.2L1614.5 87.2L1617.6 87.2L1620.7 87.2L1623.8 87.2L1626.8 87.2L1629.9 87.1L1633.0 87.1L1636.0 87.1L1639.0 87.0L1642.0 86.9L1645.0 86.8L1648.0 86.6L1651.0 86.3L1654.0 86.1L1657.0 85.9L1660.0 85.8L1663.0 85.6L1666.0 85.3L1669.0 85.1L1672.0 84.9L1675.0 84.7L1678.0 84.5L1681.0 84.4L1684.0 84.2L1687.0 84.1L1690.0 83.9L1693.0 83.9L1696.0 83.8L1699.0 83.8L1702.0 83.8L1705.1 83.8L1708.1 83.8L1711.2 83.8L1714.3 83.8L1717.4 83.8L1720.4 83.8L1723.4 83.8L1726.4 83.8L1729.4 83.8L1732.2 83.8L1735.1 83.8L1737.7 84.7L1740.4 86.0L1743.3 86.0L1746.3 86.0L1749.4 86.0L1752.5 86.0L1755.6 86.0L1758.5 86.0L1761.3 85.5L1763.9 83.8L1766.7 83.8L1769.5 83.8L1772.5 83.8L1775.4 83.8L1778.5 83.8L1781.5 83.8L1784.6 83.8L1787.7 83.8L1790.8 83.8L1793.9 83.8L1797.0 83.8L1800.0 83.8L1803.1 83.8L1806.0 83.8L1808.9 83.8L1811.7 84.5L1814.5 85.5L1817.6 85.5L1820.4 85.3L1822.7 83.8L1825.3 83.8L1828.0 83.8L1830.8 83.8L1833.6 83.8L1836.5 83.8L1839.5 83.8L1842.6 83.8L1845.7 83.8L1848.8 83.8L1851.9 83.8L1855.1 83.8L1858.3 83.8L1861.5 83.8L1864.7 83.8L1867.9 83.8L1871.0 83.8L1874.1 83.8L1877.2 83.8L1880.3 83.8L1883.2 83.8L1886.2 83.8L1889.0 83.8L1891.7 84.4L1894.3 86.4L1897.0 87.0L1900.0 87.0L1903.1 87.0L1906.3 87.0L1909.4 87.0L1912.4 87.0L1915.2 87.0L1917.7 85.8L1920.0 83.8L1922.6 83.8L1925.2 83.8L1927.8 83.8L1930.5 83.8L1933.3 83.8L1936.1 83.8L1939.0 83.8L1941.9 83.8L1944.9 83.8L1948.0 83.8L1951.1 83.9L1954.3 83.9L1957.6 83.9L1961.0 83.9L1964.5 84.0L1968.0 84.0" stroke="#0000ff"/>
<path d="M227.0 1114.0L229.7 1115.4L232.5 1116.6L235.3 1117.7L238.1 1118.5L241.0 1119.2L244.0 1119.8L247.0 1120.3L249.9 1120.6L252.9 1120.8L255.9 1120.9L258.9 1121.0L261.9 1121.0L264.9 1120.9L267.9 1120.7L270.9 1120.4L273.9 1120.0L276.9 1119.6L279.9 1119.2L282.8 1118.8L285.8 1118.4L288.8 1118.1L291.8 1117.8L294.8 1117.4L297.8 1117.1L300.7 1116.8L303.7 1116.5L306.7 1116.1L309.7 1115.8L312.7 1115.5L315.7 1115.2L318.7 1114.9L321.7 1114.6L324.6 1114.3L327.6 1113.9L330.6 1113.5L333.5 1113.0L336.5 1112.5L339.4 1111.9L342.4 1111.2L345.3 1110.5L348.2 1109.9L351.2 1109.3L354.1 1108.6L357.0 1108.0L360.0 1107.4L362.9 1106.7L365.8 1106.0L368.7 1105.3L371.6 1104.6L374.5 1103.8L377.4 1103.0L380.3 1102.1L383.2 1101.3L386.1 1100.4L388.9 1099.5L391.8 1098.7L394.7 1097.8L397.5 1096.9L400.4 1096.0L403.3 1095.1L406.1 1094.2L409.0 1093.3L411.9 1092.4L414.7 1091.5L417.6 1090.6L420.4 1089.6L423.3 1088.7L426.1 1087.8L429.0 1086.8L431.8 1085.9L434.7 1085.0L437.5 1084.0L440.4 1083.1L443.2 1082.2L446.1 1081.2L449.0 1080.3L451.8 1079.4L454.7 1078.6L457.6 1077.7L460.5 1076.8L463.3 1076.0L466.2 1075.1L469.1 1074.3L472.0 1073.4L474.8 1072.5L477.7 1071.6L480.6 1070.7L483.4 1069.9L486.3 1069.0L489.2 1068.2L492.1 1067.4L495.0 1066.7L497.9 1066.0L500.8 1065.3L503.8 1064.6L506.7 1063.9L509.6 1063.3L512.6 1062.7L515.5 1062.1L518.5 1061.6L521.4 1061.0L524.4 1060.5L527.3 1059.9L530.3 1059.3L533.2 1058.8L536.2 1058.2L539.1 1057.6L542.1 1057.0L545.0 1056.4L547.9 1055.6L550.8 1054.8L553.7 1053.9L556.5 1052.9L559.3 1051.8L562.0 1050.5L564.6 1049.0L567.1 1047.2L569.3 1045.4L571.5 1043.3L573.6 1041.1L575.6 1038.8L577.5 1036.5L579.5 1034.2L581.4 1031.9L583.2 1029.6L585.0 1027.1L586.8 1024.7L588.5 1022.2L590.2 1019.7L591.8 1017.2L593.3 1014.6L594.8 1012.0L596.3 1009.4L597.7 1006.7L599.0 1004.0L600.3 1001.3L601.5 998.6L602.7 995.9L603.8 993.1L604.9 990.3L606.0 987.5L607.0 984.6L608.1 981.8L609.1 979.0L610.1 976.2L611.1 973.3L612.0 970.5L613.0 967.6L613.9 964.8L614.8 961.9L615.7 959.0L616.5 956.2L617.4 953.3L618.2 950.4L619.0 947.5L619.7 944.6L620.5 941.7L621.3 938.8L622.0 935.9L622.8 933.0L623.5 930.1L624.3 927.2L625.0 924.2L625.7 921.3L626.4 918.4L627.2 915.5L627.9 912.6L628.5 909.7L629.2 906.7L629.9 903.8L630.5 900.9L631.2 897.9L631.8 895.0L632.5 892.1L633.2 889.2L634.0 886.3L634.7 883.4L635.5 880.5L636.1 877.5L636.6 874.6L637.1 871.6L637.6 868.7L638.0 865.7L638.5 862.7L638.9 859.8L639.3 856.8L639.6 853.8L640.0 850.8L640.4 847.8L640.8 844.8L641.2 841.9L641.6 838.9L642.0 835.9L642.4 832.9L642.9 830.0L643.3 827.0L643.8 824.0L644.2 821.1L644.7 818.1L645.1 815.1L645.6 812.2L646.0 809.2L646.5 806.2L646.9 803.3L647.4 800.3L647.8 797.3L648.2 794.4L648.7 791.4L649.1 788.4L649.6 785.5L650.0 782.5L650.5 779.5L650.9 776.5L651.4 773.6L651.8 770.6L652.3 767.6L652.7 764.7L653.1 761.7L653.6 758.7L654.0 755.8L654.5 752.8L654.9 749.8L655.3 746.9L655.8 743.9L656.2 740.9L656.6 737.9L657.1 735.0L657.5 732.0L657.9 729.0L658.4 726.1L658.9 723.1L659.3 720.1L659.8 717.2L660.3 714.2L660.8 711.3L661.3 708.3L661.8 705.3L662.3 702.4L662.9 699.4L663.4 696.5L664.0 693.5L664.6 690.6L665.2 687.6L665.8 684.7L666.5 681.8L667.2 678.9L667.9 675.9L668.7 673.0L669.5 670.1L670.3 667.2L671.2 664.4L672.2 661.5L673.1 658.6L674.1 655.6L675.3 652.7L676.6 650.0L678.1 647.8L680.4 645.7L683.1 643.9L685.9 643.0L688.5 643.6L691.1 645.3L693.6 647.5L695.8 649.7L697.5 651.9L699.0 654.4L700.4 657.0L701.7 659.8L702.9 662.7L704.1 665.6L705.3 668.4L706.5 671.2L707.7 673.9L708.9 676.7L710.0 679.5L711.1 682.2L712.3 685.0L713.4 687.8L714.5 690.6L715.7 693.4L716.9 696.1L718.2 698.8L719.4 701.6L720.6 704.3L721.9 707.0L723.2 709.7L724.5 712.5L725.8 715.2L727.1 717.9L728.4 720.6L729.7 723.3L731.0 726.0L732.3 728.7L733.6 731.4L734.9 734.1L736.2 736.8L737.5 739.5L738.8 742.2L740.2 744.9L741.6 747.5L743.0 750.2L744.4 752.8L745.9 755.4L747.4 758.1L748.9 760.7L750.4 763.3L751.9 765.9L753.5 768.4L755.1 771.0L756.8 773.5L758.5 775.9L760.2 778.3L762.1 780.7L763.9 783.0L765.9 785.3L767.8 787.6L769.9 789.8L771.9 792.0L774.0 794.2L776.2 796.3L778.3 798.4L780.5 800.5L782.7 802.5L784.9 804.5L787.2 806.6L789.5 808.5L791.9 810.4L794.3 812.2L796.7 814.0L799.2 815.5L801.8 817.1L804.4 818.6L807.1 820.1L809.8 821.6L812.6 822.9L815.4 824.0L818.3 824.7L821.1 825.1L824.1 825.5L827.1 825.7L830.1 825.9L833.2 826.0L836.1 825.9L839.2 825.5L842.2 824.8L845.1 824.0L847.9 823.1L850.5 821.9L853.1 820.3L855.6 818.4L857.9 816.3L859.9 814.1L861.7 811.9L863.3 809.4L864.9 806.8L866.3 804.1L867.7 801.3L868.9 798.5L870.1 795.8L871.2 793.0L872.3 790.2L873.3 787.4L874.2 784.5L875.1 781.6L876.0 778.7L876.8 775.8L877.5 772.9L878.2 770.0L878.9 767.1L879.6 764.2L880.2 761.2L880.8 758.3L881.3 755.3L881.9 752.4L882.4 749.4L882.9 746.4L883.4 743.5L883.9 740.5L884.4 737.6L884.9 734.6L885.3 731.6L885.7 728.7L886.2 725.7L886.6 722.7L887.0 719.7L887.4 716.8L887.8 713.8L888.2 710.8L888.6 707.8L889.0 704.9L889.4 701.9L889.9 698.9L890.3 695.9L890.7 693.0L891.2 690.0L891.6 687.0L892.0 684.1L892.4 681.1L892.9 678.1L893.3 675.1L893.7 672.2L894.1 669.2L894.5 666.2L894.9 663.3L895.3 660.3L895.7 657.3L896.1 654.3L896.5 651.4L896.9 648.4L897.3 645.4L897.7 642.4L898.1 639.4L898.4 636.5L898.8 633.5L899.2 630.5L899.5 627.5L899.9 624.5L900.2 621.6L900.6 618.6L900.9 615.6L901.2 612.6L901.5 609.6L901.8 606.6L902.1 603.7L902.4 600.7L902.7 597.7L902.9 594.7L903.2 591.7L903.4 588.7L903.7 585.7L903.9 582.7L904.2 579.7L904.4 576.7L904.7 573.7L904.9 570.8L905.2 567.8L905.5 564.8L905.8 561.8L906.1 558.8L906.4 555.8L906.7 552.8L907.0 549.8L907.3 546.9L907.6 543.9L907.9 540.9L908.2 537.9L908.5 534.9L908.8 531.9L909.1 528.9L909.4 526.0L909.7 523.0L910.0 520.0L910.3 517.0L910.6 514.0L910.9 511.0L911.2 508.0L911.5 505.0L911.8 502.1L912.1 499.1L912.4 496.1L912.7 493.1L913.0 490.1L913.3 487.1L913.6 484.1L913.9 481.2L914.2 478.2L914.5 475.2L914.8 472.2L915.1 469.2L915.4 466.2L915.7 463.2L916.0 460.2L916.2 457.3L916.5 454.3L916.8 451.3L917.1 448.3L917.4 445.3L917.7 442.3L918.0 439.3L918.3 436.3L918.6 433.4L918.9 430.4L919.2 427.4L919.5 424.4L919.8 421.4L920.2 418.4L920.5 415.5L920.9 412.5L921.2 409.5L921.6 406.5L921.9 403.5L922.3 400.6L922.7 397.6L923.1 394.6L923.5 391.6L923.8 388.6L924.2 385.7L924.6 382.7L925.0 379.7L925.4 376.7L925.9 373.8L926.3 370.8L926.7 367.8L927.2 364.9L927.6 361.9L928.1 358.9L928.5 356.0L929.0 353.0L929.4 350.0L929.8 347.0L930.3 344.1L930.7 341.1L931.1 338.1L931.5 335.2L932.0 332.2L932.5 329.2L932.9 326.2L933.4 323.2L933.9 320.2L934.5 317.2L935.2 314.2L935.9 311.4L936.8 308.6L937.9 305.7L939.6 302.4L941.5 299.8L943.3 299.0L945.1 300.5L947.0 303.4L948.5 306.7L949.5 309.5L950.2 312.3L950.8 315.3L951.3 318.2L951.7 321.3L952.2 324.3L952.6 327.3L953.1 330.3L953.5 333.3L954.0 336.3L954.5 339.2L955.0 342.2L955.4 345.2L955.8 348.1L956.1 351.1L956.4 354.1L956.6 357.1L956.8 360.1L957.0 363.1L957.2 366.1L957.4 369.1L957.7 372.1L957.9 375.1L958.2 378.1L958.5 381.0L958.8 384.0L959.2 387.0L959.6 390.0L959.9 393.0L960.3 395.9L960.7 398.9L961.1 401.9L961.4 404.9L961.8 407.9L962.1 410.8L962.4 413.8L962.7 416.8L963.0 419.8L963.3 422.8L963.6 425.8L963.9 428.8L964.2 431.7L964.5 434.7L964.7 437.7L965.0 440.7L965.3 443.7L965.6 446.7L966.0 449.7L966.3 452.7L966.6 455.6L966.9 458.6L967.2 461.6L967.6 464.6L967.9 467.6L968.2 470.6L968.6 473.6L969.0 476.5L969.4 479.5L969.8 482.5L970.2 485.4L970.7 488.4L971.2 491.4L971.7 494.3L972.3 497.3L972.9 500.2L973.5 503.2L974.1 506.1L974.8 509.0L975.5 512.0L976.1 515.0L976.9 518.0L977.7 520.9L978.6 523.8L979.7 526.4L981.2 529.1L983.2 531.9L985.5 533.5L988.4 533.3L991.4 532.3L993.1 531.0L994.5 529.0L995.6 526.3L996.6 523.3L997.5 520.0L998.3 516.6L999.1 513.3L999.9 510.2L1000.8 507.4L1001.6 504.5L1002.4 501.6L1003.2 498.7L1004.0 495.8L1004.7 492.9L1005.4 490.0L1006.2 487.0L1006.9 484.1L1007.7 481.2L1008.5 478.3L1009.2 475.4L1010.1 472.5L1010.9 469.6L1011.7 466.8L1012.5 463.9L1013.3 461.0L1014.0 458.1L1014.7 455.1L1015.4 452.2L1016.1 449.3L1016.7 446.4L1017.4 443.4L1018.0 440.5L1018.6 437.6L1019.2 434.6L1019.8 431.7L1020.3 428.7L1020.9 425.8L1021.5 422.8L1022.0 419.9L1022.6 416.9L1023.1 414.0L1023.6 411.0L1024.2 408.1L1024.7 405.1L1025.2 402.1L1025.7 399.2L1026.2 396.2L1026.7 393.3L1027.2 390.3L1027.8 387.4L1028.3 384.4L1028.8 381.4L1029.3 378.5L1029.9 375.5L1030.4 372.6L1030.9 369.6L1031.4 366.7L1032.0 363.7L1032.5 360.8L1033.0 357.8L1033.6 354.9L1034.1 351.9L1034.6 348.9L1035.1 346.0L1035.6 343.0L1036.2 340.1L1036.7 337.1L1037.2 334.2L1037.8 331.2L1038.3 328.3L1038.9 325.3L1039.5 322.4L1040.1 319.4L1040.7 316.5L1041.3 313.5L1041.9 310.6L1042.5 307.7L1043.0 304.7L1043.6 301.8L1044.2 298.8L1044.8 295.9L1045.4 292.9L1046.0 290.0L1046.5 287.0L1047.1 284.1L1047.7 281.1L1048.3 278.2L1048.9 275.3L1049.5 272.3L1050.1 269.4L1050.8 266.5L1051.5 263.6L1052.2 260.6L1052.9 257.7L1053.7 254.8L1054.4 251.9L1055.2 249.0L1056.0 246.1L1056.8 243.2L1057.6 240.3L1058.4 237.4L1059.2 234.5L1060.1 231.7L1061.0 228.8L1062.0 226.0L1063.1 223.2L1064.2 220.4L1065.5 217.7L1066.7 214.9L1067.9 212.2L1069.1 209.4L1070.3 206.6L1071.4 203.9L1072.6 201.1L1073.9 198.4L1075.1 195.7L1076.5 193.0L1078.0 190.4L1079.6 187.9L1081.2 185.3L1082.8 182.8L1084.5 180.3L1086.1 177.8L1087.8 175.3L1089.4 172.8L1091.1 170.3L1092.8 167.8L1094.5 165.3L1096.1 162.8L1097.9 160.3L1099.6 157.9L1101.4 155.4L1103.1 152.9L1104.7 150.4L1106.1 147.8L1107.3 145.1L1108.4 142.3L1109.3 139.5L1110.3 136.6L1111.2 133.7L1112.1 130.8L1113.2 128.0L1114.3 125.2L1115.5 122.3L1116.7 119.4L1118.0 116.7L1119.6 114.4L1121.9 112.4L1124.6 111.0L1127.3 111.7L1130.0 113.7L1132.0 116.0L1133.3 118.3L1134.3 120.9L1135.2 123.8L1136.0 126.9L1136.7 130.0L1137.4 133.1L1138.0 136.1L1138.6 139.0L1139.2 142.0L1139.7 144.9L1140.3 147.9L1140.7 150.9L1141.2 153.9L1141.6 156.8L1142.0 159.8L1142.3 162.8L1142.7 165.8L1143.0 168.7L1143.3 171.7L1143.6 174.7L1143.9 177.7L1144.2 180.7L1144.5 183.7L1144.7 186.7L1145.0 189.7L1145.2 192.7L1145.5 195.7L1145.7 198.6L1146.0 201.6L1146.2 204.6L1146.4 207.6L1146.7 210.6L1146.9 213.6L1147.1 216.6L1147.3 219.6L1147.5 222.6L1147.7 225.6L1147.9 228.6L1148.1 231.6L1148.3 234.6L1148.4 237.6L1148.6 240.6L1148.7 243.6L1148.9 246.6L1149.0 249.6L1149.2 252.6L1149.3 255.6L1149.5 258.6L1149.6 261.6L1149.7 264.6L1149.9 267.6L1150.0 270.6L1150.2 273.5L1150.3 276.5L1150.5 279.5L1150.6 282.5L1150.8 285.5L1150.9 288.5L1151.1 291.5L1151.2 294.5L1151.4 297.5L1151.5 300.5L1151.7 303.5L1151.8 306.5L1152.0 309.5L1152.1 312.5L1152.3 315.5L1152.4 318.5L1152.5 321.5L1152.7 324.5L1152.8 327.5L1152.9 330.5L1153.1 333.5L1153.2 336.5L1153.3 339.5L1153.4 342.5L1153.5 345.5L1153.6 348.5L1153.7 351.5L1153.8 354.5L1153.9 357.5L1154.0 360.5L1154.0 363.5L1154.1 366.5L1154.2 369.5L1154.2 372.5L1154.3 375.5L1154.4 378.5L1154.5 381.5L1154.5 384.5L1154.6 387.5L1154.7 390.5L1154.8 393.5L1154.9 396.5L1155.0 399.5L1155.1 402.5L1155.2 405.5L1155.3 408.5L1155.5 411.5L1155.6 414.5L1155.8 417.5L1155.9 420.5L1156.1 423.5L1156.3 426.5L1156.4 429.5L1156.6 432.5L1156.8 435.5L1156.9 438.5L1157.1 441.5L1157.3 444.5L1157.4 447.5L1157.6 450.5L1157.7 453.5L1157.9 456.5L1158.0 459.5L1158.1 462.5L1158.2 465.5L1158.3 468.5L1158.4 471.5L1158.5 474.5L1158.6 477.5L1158.7 480.5L1158.8 483.5L1158.9 486.5L1159.0 489.5L1159.1 492.5L1159.2 495.5L1159.3 498.5L1159.4 501.5L1159.5 504.5L1159.6 507.5L1159.7 510.5L1159.8 513.5L1159.9 516.5L1160.0 519.5L1160.1 522.5L1160.2 525.5L1160.3 528.5L1160.4 531.5L1160.6 534.5L1160.7 537.5L1160.8 540.5L1160.9 543.5L1161.0 546.5L1161.2 549.5L1161.3 552.5L1161.4 555.5L1161.5 558.5L1161.7 561.5L1161.8 564.5L1161.9 567.5L1162.0 570.5L1162.1 573.5L1162.2 576.5L1162.4 579.5L1162.5 582.5L1162.6 585.5L1162.7 588.5L1162.8 591.5L1162.9 594.5L1163.0 597.5L1163.1 600.5L1163.2 603.5L1163.4 606.5L1163.5 609.5L1163.6 612.5L1163.7 615.5L1163.9 618.5L1164.0 621.5L1164.2 624.5L1164.3 627.5L1164.5 630.5L1164.6 633.4L1164.8 636.4L1164.9 639.4L1165.1 642.4L1165.2 645.4L1165.4 648.4L1165.6 651.4L1165.7 654.4L1165.9 657.4L1166.0 660.4L1166.2 663.4L1166.3 666.4L1166.5 669.4L1166.6 672.4L1166.8 675.4L1166.9 678.4L1167.0 681.4L1167.2 684.4L1167.3 687.4L1167.5 690.4L1167.6 693.4L1167.8 696.4L1167.9 699.4L1168.1 702.4L1168.2 705.4L1168.4 708.4L1168.5 711.4L1168.7 714.4L1168.9 717.4L1169.0 720.4L1169.2 723.4L1169.4 726.4L1169.5 729.4L1169.7 732.4L1169.9 735.4L1170.0 738.4L1170.2 741.4L1170.4 744.4L1170.6 747.4L1170.7 750.4L1170.9 753.4L1171.1 756.3L1171.3 759.3L1171.5 762.3L1171.7 765.3L1171.9 768.3L1172.1 771.3L1172.3 774.3L1172.5 777.3L1172.7 780.3L1172.9 783.3L1173.2 786.3L1173.4 789.3L1173.6 792.3L1173.8 795.3L1174.1 798.3L1174.3 801.3L1174.6 804.3L1174.8 807.2L1175.1 810.2L1175.4 813.2L1175.6 816.2L1175.9 819.2L1176.2 822.2L1176.5 825.2L1176.9 828.2L1177.2 831.1L1177.6 834.1L1177.9 837.1L1178.3 840.1L1178.7 843.1L1179.1 846.0L1179.6 849.0L1180.0 852.0L1180.4 854.9L1180.9 857.9L1181.3 860.9L1181.8 863.9L1182.3 866.9L1182.8 869.8L1183.5 872.7L1184.2 875.6L1185.0 878.5L1186.0 881.3L1187.2 884.1L1188.4 886.9L1189.8 889.6L1191.2 892.2L1192.8 894.9L1194.6 897.5L1196.5 899.8L1198.7 901.5L1201.3 903.0L1204.3 904.2L1207.1 904.4L1210.1 904.0L1213.0 903.4L1216.0 902.6L1219.0 901.9L1221.9 901.1L1224.7 900.3L1227.6 899.4L1230.4 898.4L1233.3 897.4L1236.1 896.4L1238.9 895.4L1241.8 894.4L1244.6 893.4L1247.5 892.5L1250.3 891.5L1253.1 890.5L1256.0 889.5L1258.8 888.5L1261.6 887.5L1264.5 886.5L1267.3 885.5L1270.1 884.5L1273.0 883.5L1275.8 882.5L1278.6 881.5L1281.4 880.5L1284.3 879.5L1287.1 878.5L1289.9 877.4L1292.7 876.4L1295.6 875.4L1298.4 874.3L1301.2 873.3L1304.0 872.3L1306.8 871.3L1309.7 870.2L1312.5 869.2L1315.3 868.2L1318.1 867.2L1320.9 866.2L1323.8 865.2L1326.6 864.2L1329.5 863.2L1332.3 862.2L1335.1 861.2L1338.0 860.3L1340.8 859.3L1343.6 858.3L1346.5 857.3L1349.3 856.3L1352.1 855.3L1355.0 854.3L1357.8 853.3L1360.6 852.3L1363.4 851.2L1366.2 850.2L1369.0 849.1L1371.8 848.0L1374.6 847.0L1377.4 845.9L1380.2 844.8L1383.0 843.7L1385.8 842.6L1388.6 841.5L1391.4 840.4L1394.2 839.3L1397.0 838.2L1399.8 837.1L1402.6 836.0L1405.4 834.9L1408.2 833.8L1411.0 832.7L1413.8 831.6L1416.5 830.5L1419.3 829.4L1422.1 828.3L1424.9 827.2L1427.7 826.1L1430.5 825.0L1433.3 823.9L1436.1 822.7L1438.9 821.6L1441.7 820.5L1444.5 819.4L1447.2 818.3L1450.0 817.2L1452.8 816.0L1455.6 814.9L1458.4 813.8L1461.1 812.6L1463.9 811.5L1466.7 810.3L1469.5 809.2L1472.2 808.0L1475.0 806.8L1477.7 805.6L1480.5 804.4L1483.2 803.2L1486.0 802.0L1488.7 800.8L1491.5 799.6L1494.2 798.4L1497.0 797.2L1499.8 796.1L1502.6 795.0L1505.3 793.9L1508.1 792.8L1510.9 791.7L1513.7 790.6L1516.5 789.5L1519.3 788.4L1522.1 787.3L1525.0 786.3L1527.8 785.3L1530.6 784.2L1533.4 783.2L1536.3 782.3L1539.1 781.3L1542.0 780.4L1544.8 779.4L1547.7 778.5L1550.5 777.7L1553.4 776.8L1556.3 775.9L1559.2 775.1L1562.0 774.2L1564.9 773.4L1567.8 772.6L1570.7 771.7L1573.6 770.9L1576.5 770.1L1579.3 769.2L1582.2 768.4L1585.2 767.6L1588.2 766.8L1591.2 766.1L1594.1 765.4L1597.1 764.6L1600.0 763.8L1602.9 762.9L1605.6 761.9L1608.3 760.8L1610.8 759.4L1613.1 757.2L1615.5 755.9L1618.2 755.4L1621.1 755.1L1624.1 754.8L1627.2 754.6L1630.3 754.4L1633.4 754.2L1636.5 754.0L1639.5 753.7L1642.5 753.2L1645.4 752.7L1648.4 752.1L1651.3 751.4L1654.2 750.6L1657.1 749.8L1660.0 749.0L1662.8 748.1L1665.6 747.0L1668.4 745.8L1671.2 744.6L1673.9 743.3L1676.7 742.2L1679.5 741.2L1682.4 740.2L1685.2 739.3L1688.1 738.5L1691.0 737.7L1693.9 736.9L1696.8 736.2L1699.8 735.6L1702.7 735.1L1705.7 734.6L1708.7 734.1L1711.6 733.6L1714.6 733.3L1717.6 733.1L1720.6 733.0L1723.6 733.0L1726.6 733.0L1729.6 733.0L1732.7 733.0L1735.7 733.0L1738.7 733.0L1741.7 733.0L1744.6 733.0L1747.6 733.0L1750.6 733.3L1753.5 733.9L1756.4 734.6L1759.3 735.5L1762.2 736.4L1765.1 737.4L1768.0 738.4L1770.9 739.3L1773.7 740.2L1776.5 741.2L1779.4 742.2L1782.2 743.3L1785.0 744.4L1787.8 745.5L1790.5 746.7L1793.3 747.9L1796.0 749.2L1798.7 750.4L1801.5 751.7L1804.2 753.0L1806.9 754.3L1809.6 755.7L1812.2 757.2L1814.8 758.7L1817.4 760.3L1819.8 761.9L1822.2 763.6L1824.5 765.5L1826.8 767.4L1829.0 769.5L1831.2 771.6L1833.4 773.7L1835.5 775.8L1837.7 777.9L1839.9 779.9L1842.2 781.9L1844.4 783.9L1846.7 785.9L1848.9 787.9L1851.2 789.9L1853.4 791.9L1855.6 793.9L1857.8 796.0L1860.0 798.0L1862.2 800.1L1864.4 802.1L1866.5 804.2L1868.7 806.3L1870.8 808.4L1873.0 810.5L1875.1 812.7L1877.1 814.9L1879.2 817.1L1881.2 819.3L1883.1 821.6L1885.1 823.8L1887.1 826.1L1889.0 828.5L1890.9 830.8L1892.7 833.2L1894.4 835.7L1896.1 838.1L1897.7 840.6L1899.2 843.2L1900.6 845.8L1902.0 848.5L1903.3 851.2L1904.7 853.9L1906.1 856.6L1907.4 859.3L1908.8 861.9L1910.3 864.6L1911.8 867.1L1913.4 869.7L1915.0 872.3L1916.6 874.8L1918.1 877.4L1919.7 879.9L1921.2 882.5L1922.6 885.2L1924.1 887.8L1925.5 890.5L1926.9 893.1L1928.2 895.8L1929.5 898.5L1930.8 901.2L1932.0 904.0L1933.1 906.8L1934.1 909.6L1935.1 912.4L1936.1 915.3L1937.1 918.1L1938.0 921.0L1939.1 923.8L1940.2 926.5L1941.4 929.3L1942.7 932.0L1944.0 934.7L1945.4 937.3L1946.8 940.0L1948.2 942.7L1949.6 945.3L1951.1 948.0L1952.5 950.6L1953.9 953.2L1955.4 955.9L1956.8 958.5L1958.3 961.1L1959.8 963.7L1961.3 966.3L1962.9 968.9L1964.4 971.4L1966.0 974.0" stroke="#ff0000"/>
</g>
<line x1="225.4" y1="60.5" x2="1968.5" y2="60.5" stroke="#bcbcbc" stroke-width="2.8"/>
<line x1="225.4" y1="63.2" x2="1968.5" y2="63.2" stroke="#000" stroke-width="2.8"/>
<g stroke="#000" stroke-width="3.2">
<line x1="227.0" y1="61.9" x2="227.0" y2="1164.3"/>
<line x1="214.0" y1="1162.7" x2="1970.0" y2="1162.7"/>
</g>
<g stroke="#000" stroke-width="3.5">
<line x1="205.0" y1="1097.8" x2="227.0" y2="1097.8"/>
<line x1="205.0" y1="969.9" x2="227.0" y2="969.9"/>
<line x1="205.0" y1="842.1" x2="227.0" y2="842.1"/>
<line x1="205.0" y1="714.2" x2="227.0" y2="714.2"/>
<line x1="205.0" y1="586.4" x2="227.0" y2="586.4"/>
<line x1="205.0" y1="458.5" x2="227.0" y2="458.5"/>
<line x1="205.0" y1="330.6" x2="227.0" y2="330.6"/>
<line x1="205.0" y1="202.8" x2="227.0" y2="202.8"/>
<line x1="205.0" y1="74.9" x2="227.0" y2="74.9"/>
<line x1="215.0" y1="1033.9" x2="227.0" y2="1033.9"/>
<line x1="215.0" y1="906.0" x2="227.0" y2="906.0"/>
<line x1="215.0" y1="778.1" x2="227.0" y2="778.1"/>
<line x1="215.0" y1="650.3" x2="227.0" y2="650.3"/>
<line x1="215.0" y1="522.4" x2="227.0" y2="522.4"/>
<line x1="215.0" y1="394.6" x2="227.0" y2="394.6"/>
<line x1="215.0" y1="266.7" x2="227.0" y2="266.7"/>
<line x1="215.0" y1="138.9" x2="227.0" y2="138.9"/>
<line x1="375.1" y1="1162.7" x2="375.1" y2="1184.2"/>
<line x1="587.4" y1="1162.7" x2="587.4" y2="1184.2"/>
<line x1="799.8" y1="1162.7" x2="799.8" y2="1184.2"/>
<line x1="1012.1" y1="1162.7" x2="1012.1" y2="1184.2"/>
<line x1="1224.5" y1="1162.7" x2="1224.5" y2="1184.2"/>
<line x1="1436.8" y1="1162.7" x2="1436.8" y2="1184.2"/>
<line x1="1649.1" y1="1162.7" x2="1649.1" y2="1184.2"/>
<line x1="1861.5" y1="1162.7" x2="1861.5" y2="1184.2"/>
<line x1="268.9" y1="1162.7" x2="268.9" y2="1173.2"/>
<line x1="481.3" y1="1162.7" x2="481.3" y2="1173.2"/>
<line x1="693.6" y1="1162.7" x2="693.6" y2="1173.2"/>
<line x1="906.0" y1="1162.7" x2="906.0" y2="1173.2"/>
<line x1="1118.3" y1="1162.7" x2="1118.3" y2="1173.2"/>
<line x1="1330.6" y1="1162.7" x2="1330.6" y2="1173.2"/>
<line x1="1543.0" y1="1162.7" x2="1543.0" y2="1173.2"/>
<line x1="1755.3" y1="1162.7" x2="1755.3" y2="1173.2"/>
<line x1="1967.7" y1="1162.7" x2="1967.7" y2="1173.2"/>
</g>
<g stroke="#0000ff" stroke-width="4.4">
<line x1="1968.5" y1="59.3" x2="1968.5" y2="1164.3" stroke-width="3.2"/>
<line x1="1968.5" y1="83.6" x2="1990.5" y2="83.6"/>
<line x1="1968.5" y1="299.4" x2="1990.5" y2="299.4"/>
<line x1="1968.5" y1="515.2" x2="1990.5" y2="515.2"/>
<line x1="1968.5" y1="731.1" x2="1990.5" y2="731.1"/>
<line x1="1968.5" y1="946.9" x2="1990.5" y2="946.9"/>
<line x1="1968.5" y1="1162.7" x2="1990.5" y2="1162.7"/>
<line x1="1968.5" y1="191.5" x2="1979.0" y2="191.5"/>
<line x1="1968.5" y1="407.3" x2="1979.0" y2="407.3"/>
<line x1="1968.5" y1="623.1" x2="1979.0" y2="623.1"/>
<line x1="1968.5" y1="839.0" x2="1979.0" y2="839.0"/>
<line x1="1968.5" y1="1054.8" x2="1979.0" y2="1054.8"/>
</g>
<line x1="2122.3" y1="60.6" x2="2122.3" y2="1165.0" stroke="#ffbcbc" stroke-width="2.4"/>
<g stroke="#ff0000" stroke-width="4.4">
<line x1="2125.0" y1="60.6" x2="2125.0" y2="1165.0" stroke-width="3.0"/>
<line x1="2125.0" y1="62.8" x2="2147.0" y2="62.8"/>
<line x1="2125.0" y1="337.8" x2="2147.0" y2="337.8"/>
<line x1="2125.0" y1="612.8" x2="2147.0" y2="612.8"/>
<line x1="2125.0" y1="887.8" x2="2147.0" y2="887.8"/>
<line x1="2125.0" y1="1162.8" x2="2147.0" y2="1162.8"/>
<line x1="2125.0" y1="200.3" x2="2135.5" y2="200.3"/>
<line x1="2125.0" y1="475.3" x2="2135.5" y2="475.3"/>
<line x1="2125.0" y1="750.3" x2="2135.5" y2="750.3"/>
<line x1="2125.0" y1="1025.3" x2="2135.5" y2="1025.3"/>
</g>
<text transform="translate(375.6,1239.4) scale(0.989,1.000)" font-size="50" fill="#000" text-anchor="middle" stroke-width="0.5">100</text>
<text transform="translate(587.9,1239.4) scale(0.989,1.000)" font-size="50" fill="#000" text-anchor="middle" stroke-width="0.5">200</text>
<text transform="translate(800.3,1239.4) scale(0.989,1.000)" font-size="50" fill="#000" text-anchor="middle" stroke-width="0.5">300</text>
<text transform="translate(1012.6,1239.4) scale(0.989,1.000)" font-size="50" fill="#000" text-anchor="middle" stroke-width="0.5">400</text>
<text transform="translate(1225.0,1239.4) scale(0.989,1.000)" font-size="50" fill="#000" text-anchor="middle" stroke-width="0.5">500</text>
<text transform="translate(1437.3,1239.4) scale(0.989,1.000)" font-size="50" fill="#000" text-anchor="middle" stroke-width="0.5">600</text>
<text transform="translate(1649.6,1239.4) scale(0.989,1.000)" font-size="50" fill="#000" text-anchor="middle" stroke-width="0.5">700</text>
<text transform="translate(1862.0,1239.4) scale(0.989,1.000)" font-size="50" fill="#000" text-anchor="middle" stroke-width="0.5">800</text>
<text transform="translate(188.5,1113.1) scale(0.989,1.000)" font-size="50" fill="#000" text-anchor="end" stroke-width="0.5">20</text>
<text transform="translate(188.5,985.2) scale(0.989,1.000)" font-size="50" fill="#000" text-anchor="end" stroke-width="0.5">30</text>
<text transform="translate(188.5,857.4) scale(0.989,1.000)" font-size="50" fill="#000" text-anchor="end" stroke-width="0.5">40</text>
<text transform="translate(188.5,729.5) scale(0.989,1.000)" font-size="50" fill="#000" text-anchor="end" stroke-width="0.5">50</text>
<text transform="translate(188.5,601.7) scale(0.989,1.000)" font-size="50" fill="#000" text-anchor="end" stroke-width="0.5">60</text>
<text transform="translate(188.5,473.8) scale(0.989,1.000)" font-size="50" fill="#000" text-anchor="end" stroke-width="0.5">70</text>
<text transform="translate(188.5,345.9) scale(0.989,1.000)" font-size="50" fill="#000" text-anchor="end" stroke-width="0.5">80</text>
<text transform="translate(188.5,218.1) scale(0.989,1.000)" font-size="50" fill="#000" text-anchor="end" stroke-width="0.5">90</text>
<text transform="translate(188.5,90.2) scale(0.989,1.000)" font-size="50" fill="#000" text-anchor="end" stroke-width="0.5">100</text>
<text transform="translate(1993.5,98.6) scale(0.989,1.000)" font-size="50" fill="#0000ff" text-anchor="start" stroke-width="0.5">0</text>
<text transform="translate(1993.5,314.4) scale(0.989,1.000)" font-size="50" fill="#0000ff" text-anchor="start" stroke-width="0.5">-1</text>
<text transform="translate(1993.5,530.2) scale(0.989,1.000)" font-size="50" fill="#0000ff" text-anchor="start" stroke-width="0.5">-2</text>
<text transform="translate(1993.5,746.1) scale(0.989,1.000)" font-size="50" fill="#0000ff" text-anchor="start" stroke-width="0.5">-3</text>
<text transform="translate(1993.5,961.9) scale(0.989,1.000)" font-size="50" fill="#0000ff" text-anchor="start" stroke-width="0.5">-4</text>
<text transform="translate(1993.5,1177.7) scale(0.989,1.000)" font-size="50" fill="#0000ff" text-anchor="start" stroke-width="0.5">-5</text>
<text transform="translate(2162.5,77.3) scale(0.989,1.000)" font-size="50" fill="#ff0000" text-anchor="start" stroke-width="0.5">-75</text>
<text transform="translate(2162.5,352.3) scale(0.989,1.000)" font-size="50" fill="#ff0000" text-anchor="start" stroke-width="0.5">-50</text>
<text transform="translate(2162.5,627.3) scale(0.989,1.000)" font-size="50" fill="#ff0000" text-anchor="start" stroke-width="0.5">-25</text>
<text transform="translate(2162.5,902.3) scale(0.989,1.000)" font-size="50" fill="#ff0000" text-anchor="start" stroke-width="0.5">0</text>
<text transform="translate(2162.5,1177.3) scale(0.989,1.000)" font-size="50" fill="#ff0000" text-anchor="start" stroke-width="0.5">25</text>
<text transform="translate(1099.0,1335.0) scale(0.989,0.980)" font-size="62" fill="#000" text-anchor="middle" stroke-width="0.6">Temperature (°C)</text>
<text transform="translate(79.5,611.5) rotate(-90) scale(0.962,0.975)" font-size="62" fill="#000" text-anchor="middle" stroke-width="0.6">Weight (%)</text>
<text transform="translate(2104.5,611.9) rotate(-90) scale(0.965,0.975)" font-size="62" fill="#0000ff" text-anchor="middle" stroke-width="0.6">Derivative weight (%/min)</text>
<text transform="translate(2302.5,612.0) rotate(-90) scale(0.969,0.975)" font-size="62" fill="#ff0000" text-anchor="middle" stroke-width="0.6">Heat flow (mW) (endo down)</text>
<g stroke-width="5.9">
<line x1="1577" y1="177.6" x2="1718.5" y2="177.6" stroke="#000"/>
<line x1="1577" y1="252.8" x2="1718.5" y2="252.8" stroke="#0000ff"/>
<line x1="1577" y1="328.0" x2="1718.5" y2="328.0" stroke="#ff0000"/>
</g>
<text transform="translate(1732.0,197.8) scale(0.989,0.980)" font-size="62" fill="#000" text-anchor="start" stroke-width="0.6">TG</text>
<text transform="translate(1732.0,272.6) scale(0.989,0.980)" font-size="62" fill="#000" text-anchor="start" stroke-width="0.6">DTG</text>
<text transform="translate(1732.0,348.3) scale(0.989,0.980)" font-size="62" fill="#000" text-anchor="start" stroke-width="0.6">DSC</text>
</svg></body></html>
